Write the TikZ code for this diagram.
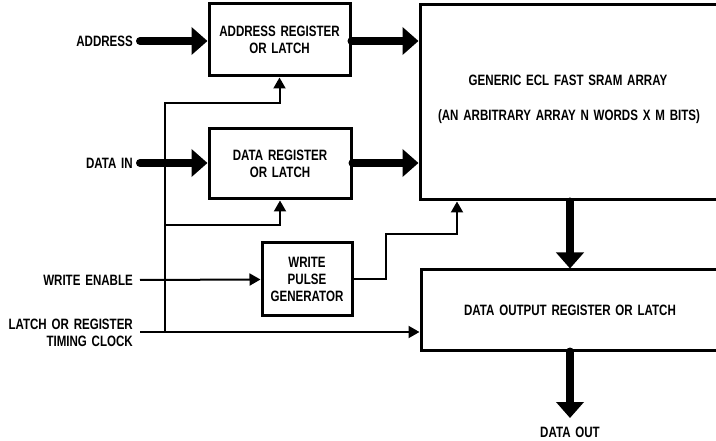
\documentclass[tikz,border=0pt]{standalone}
\usepackage{fontspec}
\setmainfont{Liberation Sans}[FakeStretch=0.77,WordSpace=1.5]
\usetikzlibrary{arrows.meta}
\begin{document}
\begin{tikzpicture}[x=1pt,y=-1pt,
  font=\fontsize{15}{17}\selectfont\bfseries,
  box/.style={draw, line width=3pt, align=center, inner sep=0pt},
  thick arrow/.style={line width=8pt, line cap=round, -{Triangle[width=27pt,length=16pt]}},
  thin arrow/.style={line width=2pt, -{Triangle[width=12pt,length=11pt]}},
  thin line/.style={line width=2pt},
  lbl/.style={align=right, anchor=east, inner sep=0pt}]
\useasboundingbox (0,0) rectangle (716,441);
\clip (0,0) rectangle (716,441);
\fill[white] (0,0) rectangle (716,441);
% boxes
\node[box, minimum width=141pt, minimum height=72pt] (addr) at (279.5,40) {ADDRESS REGISTER\\OR LATCH};
\node[box, minimum width=142pt, minimum height=70pt] (data) at (280,164) {DATA REGISTER\\OR LATCH};
\node[box, minimum width=90pt, minimum height=73pt] (wpg) at (307,279.5) {WRITE\\PULSE\\GENERATOR};
\node[box, minimum width=300pt, minimum height=195pt] (arr) at (570,102.5) {};
\node (t1) at (568,80) {GENERIC ECL FAST SRAM ARRAY};
\node (t2) at (569,117) {(AN ARBITRARY ARRAY N WORDS X M BITS)};
\node[box, minimum width=298pt, minimum height=80pt] (out) at (570,310) {DATA OUTPUT REGISTER OR LATCH};
% labels
\node[lbl] (laddr) at (133,41) {ADDRESS};
\node[lbl] (ldata) at (133,163) {DATA IN};
\node[lbl] (lwe) at (133,280) {WRITE ENABLE};
\node[lbl] (lclk) at (133,333) {LATCH OR REGISTER\\TIMING CLOCK};
\node (ldout) at (570,432) {DATA OUT};
% coordinates
\coordinate (a0) at (140,41);
\coordinate (d0) at (140,163);
\coordinate (w0) at (140,280);
\coordinate (c0) at (140,332);
\coordinate (ctop) at (165,103);
\coordinate (cmid) at (165,225);
\coordinate (wr) at (386,234);
\coordinate (wa) at (457,234);
\coordinate (dout) at (570,418);
% thick arrows
\draw[thick arrow] (a0) -- (a0 -| addr.west);
\draw[thick arrow] (addr.east |- a0) -- (a0 -| arr.west);
\draw[thick arrow] (d0) -- (d0 -| data.west);
\draw[thick arrow] (data.east |- d0) -- (d0 -| arr.west);
\draw[thick arrow] (arr.south) -- (out.north);
\draw[thick arrow] (out.south) -- (dout);
% thin connectors
\draw[thin arrow] (ctop |- c0) -- (ctop) -- (ctop -| addr.south) -- (addr.south);
\draw[thin arrow] (cmid) -- (cmid -| data.south) -- (data.south);
\draw[thin arrow] (c0) -- (c0 -| out.west);
\draw[thin arrow] (w0) -- (wpg.west);
\draw[thin arrow] (wpg.east) -- (wpg.east -| wr) -- (wr) -- (wa) -- (wa |- arr.south);
\end{tikzpicture}
\end{document}
